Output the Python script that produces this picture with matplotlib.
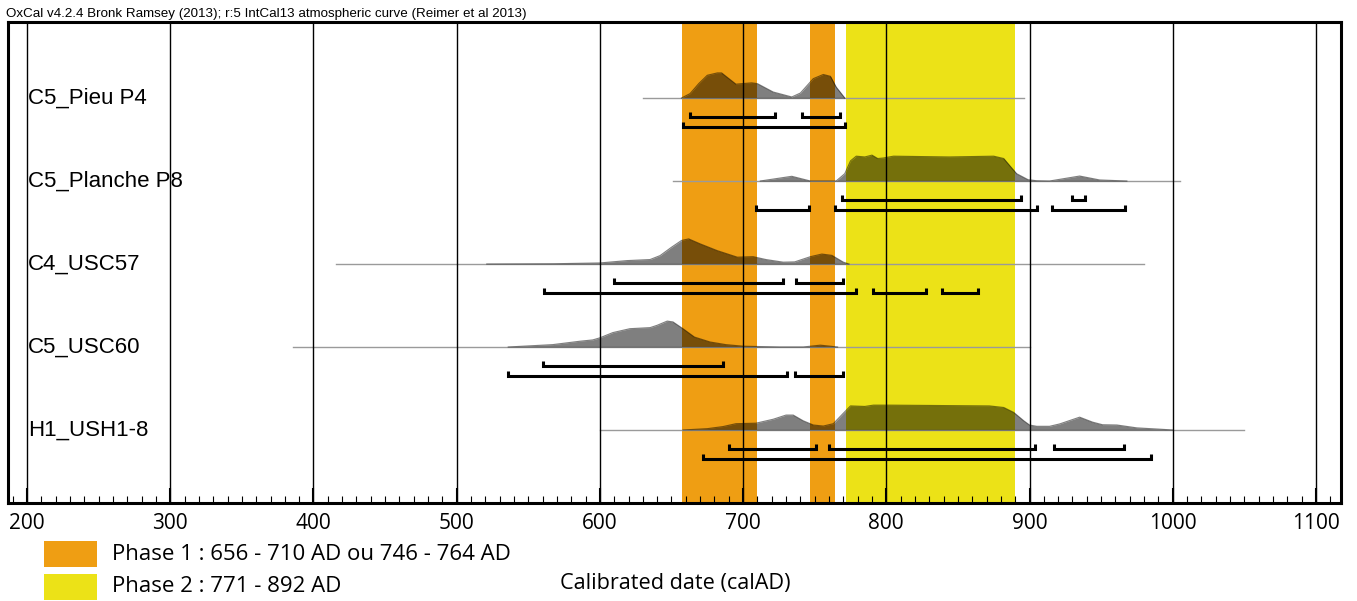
import matplotlib
matplotlib.use("Agg")
import matplotlib.pyplot as plt
from matplotlib.patches import Rectangle

# ---- data ----
SAMPLES = ["C5_Pieu P4", "C5_Planche P8", "C4_USC57", "C5_USC60", "H1_USH1-8"]

# extent of the thin grey baseline under each distribution (calAD)
BASE_EXTENT = [(630, 896), (651, 1005), (416, 980), (386, 900), (600, 1050)]

# posterior density, relative to the tallest peak (percent)
PIEU_YR = [657, 663, 669, 675, 682, 685, 695, 706, 710, 721, 734, 740, 749, 756, 761, 765, 771]
PIEU_P = [0, 17, 55, 87, 96, 96, 53, 58, 55, 23, 4, 19, 74, 90, 83, 42, 0]

PLANCHE_YR = [712, 734, 747, 765, 771, 775, 779, 785, 790, 794, 798, 805, 844, 875, 882,
              886, 891, 899, 905, 914, 935, 949, 968]
PLANCHE_P = [0, 18, 0, 0, 28, 77, 95, 92, 99, 86, 88, 95, 92, 95, 86, 60, 28, 5, 1, 0, 19, 4, 0]

USC57_YR = [521, 568, 600, 619, 635, 642, 650, 657, 662, 670, 682, 696, 707, 716, 728, 736,
            747, 755, 762, 770, 774]
USC57_P = [0, 1, 4, 13, 17, 32, 64, 90, 96, 77, 51, 26, 28, 17, 7, 8, 28, 38, 33, 7, 0]

USC60_YR = [536, 567, 586, 595, 600, 609, 621, 635, 640, 647, 651, 658, 666, 677, 688, 700,
            726, 742, 754, 766]
USC60_P = [0, 9, 22, 27, 35, 55, 70, 74, 83, 99, 96, 70, 38, 19, 9, 3, 0, 0, 7, 0]

H1_YR = [658, 675, 686, 695, 709, 721, 730, 735, 742, 749, 756, 763, 770, 775, 785, 791, 803,
         872, 882, 889, 896, 900, 905, 914, 921, 935, 944, 951, 961, 975, 991, 1000]
H1_P = [0, 5, 13, 24, 26, 41, 57, 57, 35, 19, 15, 24, 64, 92, 90, 95, 95, 92, 86, 67, 35, 19,
        14, 14, 23, 49, 30, 20, 19, 8, 3, 0]

DENS = [(PIEU_YR, PIEU_P), (PLANCHE_YR, PLANCHE_P), (USC57_YR, USC57_P),
        (USC60_YR, USC60_P), (H1_YR, H1_P)]

# highest posterior density ranges
RANGE_68 = [[(663, 722), (741, 768)],
            [(769, 894), (930, 939)],
            [(610, 728), (737, 770)],
            [(560, 686)],
            [(690, 751), (760, 904), (917, 966)]]
RANGE_95 = [[(658, 771)],
            [(709, 746), (764, 905), (916, 967)],
            [(561, 779), (791, 828), (839, 864)],
            [(536, 731), (736, 770)],
            [(672, 985)]]

PHASE1 = [(657, 710), (747, 764)]
PHASE2 = [(772, 890)]
PHASE_LABELS = ["Phase 1 : 656 - 710 AD ou 746 - 764 AD", "Phase 2 : 771 - 892 AD"]
ORANGE = "#ef9e13"
YELLOW = "#ece217"

W, H = 1357, 601
fig = plt.figure(figsize=(W / 100, H / 100), dpi=100)
ax = fig.add_axes([8 / W, 1 - 503 / H, (1341 - 8) / W, (503 - 22) / H])
ax.set_xlim(186.7, 1117.5)
ax.set_ylim(4.88, -0.916)

PEAK = 0.315       # height of a 100% density, in row units
OFF68, OFF95, TICK = 0.23, 0.35, 0.06

for a, b in PHASE1:
    ax.axvspan(a, b, color=ORANGE, lw=0, zorder=1)
for a, b in PHASE2:
    ax.axvspan(a, b, color=YELLOW, lw=0, zorder=1)

for yr in range(200, 1101, 100):
    ax.axvline(yr, color="black", lw=1.0, zorder=4)

for i, name in enumerate(SAMPLES):
    x0, x1 = BASE_EXTENT[i]
    ax.plot([x0, x1], [i, i], color="#9a9a9a", lw=1.0, zorder=2)
    yrs, p = DENS[i]
    top = [i - v / 100 * PEAK for v in p]
    ax.fill_between(yrs, i, top, color="black", alpha=0.5, lw=0, zorder=3)
    ax.plot(yrs, top, color="black", alpha=0.5, lw=0.8, zorder=3)
    for off, ranges in ((OFF68, RANGE_68[i]), (OFF95, RANGE_95[i])):
        yb = i + off
        for a, b in ranges:
            ax.plot([a, a, b, b], [yb - TICK, yb, yb, yb - TICK], color="black", lw=2.2,
                    solid_joinstyle="miter", solid_capstyle="butt", zorder=5)
    ax.text(200.5, i, name, fontsize=16, family="Liberation Sans", ha="left", va="center",
            zorder=6)

ax.set_yticks([])
ax.set_xticks(range(200, 1101, 100))
ax.set_xticks(range(190, 1111, 10), minor=True)
ax.tick_params(axis="x", which="major", direction="in", length=10.5, width=1.5, pad=7,
               labelsize=15)
ax.tick_params(axis="x", which="minor", direction="in", length=5, width=0.8)
for lab in ax.get_xticklabels():
    lab.set_family("Open Sans")
for s in ax.spines.values():
    s.set_linewidth(2.2)

fig.text(6 / W, 1 - 14 / H,
         "OxCal v4.2.4 Bronk Ramsey (2013); r:5 IntCal13 atmospheric curve (Reimer et al 2013)",
         fontsize=9.6, family="Liberation Sans", va="center", ha="left")

for k, (col, lab) in enumerate(zip([ORANGE, YELLOW], PHASE_LABELS)):
    ytop = 541 + 33 * k
    fig.patches.append(Rectangle((44 / W, 1 - (ytop + 26) / H), 53 / W, 26 / H,
                                 transform=fig.transFigure, facecolor=col, edgecolor="none"))
    fig.text(112 / W, 1 - (ytop + 13) / H, lab, fontsize=16, family="Open Sans",
             va="center", ha="left")
fig.text(560 / W, 1 - 583 / H, "Calibrated date (calAD)", fontsize=15.6, family="Open Sans",
         va="center", ha="left")

fig.savefig("out.png", dpi=100)
